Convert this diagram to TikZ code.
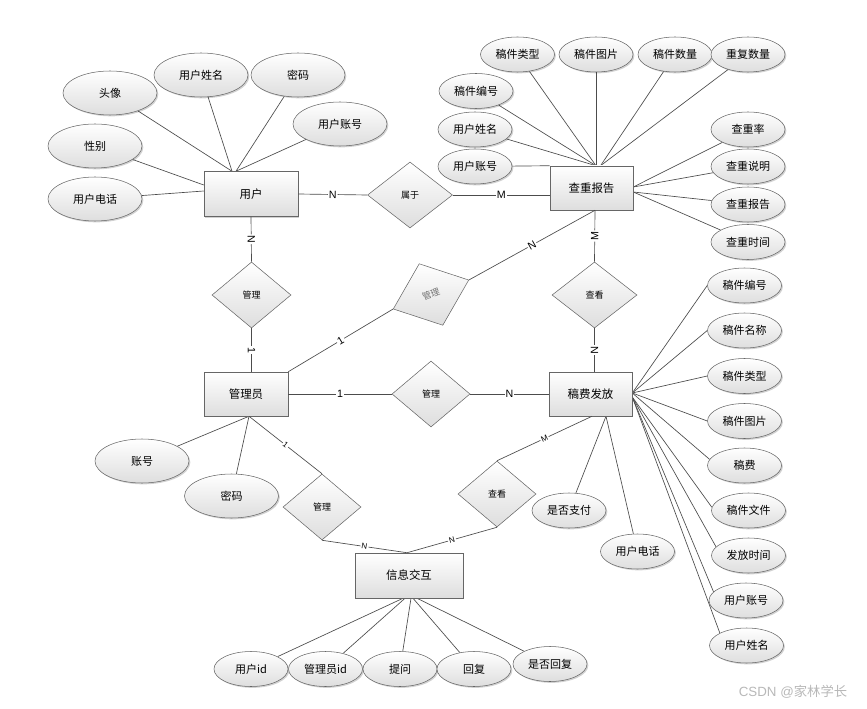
\documentclass[tikz,border=0pt]{standalone}
\usepackage{fontspec}
\newfontfamily\cjk{Noto Sans CJK SC}
\newfontfamily\lat{Liberation Sans}
\usetikzlibrary{shapes.geometric,calc,shadows,backgrounds}
\tikzset{
  shade/.style={top color=white, bottom color=black!13},
  ent/.style={rectangle, draw=black!60, shade, inner sep=0pt,
    drop shadow={shadow xshift=1pt, shadow yshift=-1pt, opacity=0.18, fill=black},
    font=\cjk\fontsize{8.6}{10}\selectfont},
  attr/.style={ellipse, draw=black!60, shade, inner sep=0pt,
    drop shadow={shadow xshift=1pt, shadow yshift=-1pt, opacity=0.18, fill=black},
    font=\cjk\fontsize{8.25}{10}\selectfont},
  bigattr/.style={attr, minimum width=70.5pt, minimum height=33pt},
  smattr/.style={attr, minimum width=55.5pt, minimum height=26.25pt},
  rel/.style={diamond, draw=black!60, shade, inner sep=0pt, minimum height=49.5pt,
    font=\cjk\fontsize{6.75}{8}\selectfont},
  conn/.style={draw=black!70, line width=0.5pt},
  card/.style={fill=white, inner sep=0.8pt, sloped, font=\lat\fontsize{8}{9}\selectfont},
  smcard/.style={card, font=\lat\fontsize{6}{7}\selectfont},
}
\begin{document}
\begin{tikzpicture}[x=0.75pt,y=-0.75pt]
\useasboundingbox (0,0) rectangle (867,709);

% entities
\node[ent, minimum width=70.5pt, minimum height=33.75pt] (yh) at (251,194) {用户};
\node[ent, minimum width=62.25pt, minimum height=33pt] (cb) at (591.5,188) {查重报告};
\node[ent, minimum width=63pt, minimum height=33pt] (gly) at (246,394) {管理员};
\node[ent, minimum width=62.25pt, minimum height=33pt] (gf) at (590.5,394) {稿费发放};
\node[ent, minimum width=81pt, minimum height=33.75pt] (xx) at (409,575.5) {信息交互};

% relationships
\node[rel, minimum width=63.75pt] (sy) at (410,195) {属于};
\node[rel, minimum width=59.25pt] (glL) at (251.5,295) {管理};
\node[rel, minimum width=60.75pt, rotate=21, text=black!55] (glR) at (431,294.5) {管理};
\node[rel, minimum width=63.75pt] (chU) at (594.5,295) {查看};
\node[rel, minimum width=58.5pt] (glM) at (431,394) {管理};
\node[rel, minimum width=58.5pt] (glLL) at (322,507) {管理};
\node[rel, minimum width=58.5pt] (chL) at (497,494) {查看};

% attributes of 用户
\node[bigattr] (u1) at (110,93) {头像};
\node[bigattr] (u2) at (201,75) {用户姓名};
\node[bigattr] (u3) at (298,75) {密码};
\node[bigattr] (u4) at (340,124) {用户账号};
\node[bigattr] (u5) at (95,146) {性别};
\node[bigattr] (u6) at (95,199) {用户电话};

% attributes of 管理员
\node[bigattr] (g1) at (142,461) {账号};
\node[bigattr] (g2) at (231.5,496) {密码};

% attributes of 查重报告
\node[smattr] (c1) at (517.5,54.5) {稿件类型};
\node[smattr] (c2) at (596,54.5) {稿件图片};
\node[smattr] (c3) at (675,54.5) {稿件数量};
\node[smattr] (c4) at (748,54.5) {重复数量};
\node[smattr] (c5) at (476,91) {稿件编号};
\node[smattr] (c6) at (475,129.5) {用户姓名};
\node[smattr] (c7) at (475,166.5) {用户账号};
\node[smattr] (c8) at (748,129.5) {查重率};
\node[smattr] (c9) at (748,166.5) {查重说明};
\node[smattr] (c10) at (748,204.5) {查重报告};
\node[smattr] (c11) at (748,242) {查重时间};

% attributes of 稿费发放
\node[smattr] (f1) at (744.5,285.5) {稿件编号};
\node[smattr] (f2) at (744.5,330.5) {稿件名称};
\node[smattr] (f3) at (744.5,376) {稿件类型};
\node[smattr] (f4) at (744.5,421) {稿件图片};
\node[smattr] (f5) at (744.5,465.5) {稿费};
\node[smattr] (f6) at (748.5,510.5) {稿件文件};
\node[smattr] (f7) at (748.5,555.5) {发放时间};
\node[smattr] (f8) at (746,600.5) {用户账号};
\node[smattr] (f9) at (746.5,645.5) {用户姓名};
\node[smattr] (f10) at (569,510.5) {是否支付};
\node[smattr] (f11) at (637.5,551.5) {用户电话};

% attributes of 信息交互
\node[smattr] (x1) at (251,669) {用户id};
\node[smattr] (x2) at (325.5,669) {管理员id};
\node[smattr] (x3) at (400,669) {提问};
\node[smattr] (x4) at (474,669) {回复};
\node[smattr] (x5) at (550,664) {是否回复};

% connection points
\coordinate (yhT1) at ($(yh.north)+(-19,0)$);
\coordinate (yhT2) at ($(yh.north)+(-15,0)$);
\coordinate (yhL1) at ($(yh.west)+(0,-9)$);
\coordinate (yhL2) at ($(yh.west)+(0,-3)$);
\coordinate (cbT1) at ($(cb.north)+(4.5,0)$);
\coordinate (cbT2) at ($(cb.north)+(9,0)$);
\coordinate (cbR1) at ($(cb.east)+(0,-1)$);
\coordinate (cbR2) at ($(cb.east)+(0,4)$);
\coordinate (cbB) at ($(cb.south)+(3.5,0)$);
\coordinate (gfR1) at ($(gf.east)+(0,-1)$);
\coordinate (gfR2) at ($(gf.east)+(0,3)$);
\coordinate (gfB1) at ($(gf.south)+(1.5,0)$);
\coordinate (gfB2) at ($(gf.south)+(15.5,0)$);
\coordinate (glyB) at ($(gly.south)+(3,0)$);
\coordinate (xxT) at ($(xx.north)+(-2,0)$);

\begin{pgfonlayer}{background}
% attribute connectors
\draw[conn] (u1) -- (yhT1);
\draw[conn] (u2) -- (yhT1);
\draw[conn] (u3) -- (yhT2);
\draw[conn] (u4) -- (yhT2);
\draw[conn] (u5) -- (yhL1);
\draw[conn] (u6) -- (yhL2);

\draw[conn] (g1) -- (glyB);
\draw[conn] (g2) -- (glyB);

\draw[conn] (c1) -- (cbT1);
\draw[conn] (c2) -- (cbT1);
\draw[conn] (c3) -- (cbT2);
\draw[conn] (c4) -- (cbT2);
\draw[conn] (c5) -- (cbT1);
\draw[conn] (c6) -- (cbT1);
\draw[conn] (c7) -- (cb.north west);
\draw[conn] (c8) -- (cbR1);
\draw[conn] (c9) -- (cbR1);
\draw[conn] (c10) -- (cbR2);
\draw[conn] (c11) -- (cbR2);

\draw[conn] (f1.west) -- (gfR1);
\draw[conn] (f2.west) -- (gfR1);
\draw[conn] (f3.west) -- (gfR1);
\draw[conn] (f4.west) -- (gfR1);
\draw[conn] (f5.170) -- (gfR1);
\draw[conn] (f6.175) -- (gfR2);
\draw[conn] (f7.165) -- (gfR2);
\draw[conn] (f8.165) -- (gfR2);
\draw[conn] (f9.155) -- (gfR2);
\draw[conn] (f10) -- (gfB2);
\draw[conn] (f11) -- (gfB2);

\draw[conn] (x1) -- ($(xx.south)+(-6,0)$);
\draw[conn] (x2) -- ($(xx.south)+(-4,0)$);
\draw[conn] (x3) -- ($(xx.south)+(2,0)$);
\draw[conn] (x4) -- ($(xx.south)+(4,0)$);
\draw[conn] (x5) -- ($(xx.south)+(8,0)$);
\end{pgfonlayer}

% relationship connectors
\draw[conn] (yh.east) -- node[card]{N} (sy.west);
\draw[conn] (sy.east) -- node[card]{M} (sy.east -| cb.west);
\draw[conn] (yh.south) -- node[card]{N} (glL.north);
\draw[conn] (glL.south) -- node[card]{1} (glL.south |- gly.north);
\draw[conn] (gly.north east) -- node[card]{1} (glR.west);
\draw[conn] (glR.east) -- node[card]{N} (cbB);
\draw[conn] (cbB) -- node[card]{M} (chU.north);
\draw[conn] (chU.south) -- node[card]{N} (chU.south |- gf.north);
\draw[conn] (gly.east) -- node[card]{1} (glM.west);
\draw[conn] (glM.east) -- node[card]{N} (gf.west);
\draw[conn] (glyB) -- node[smcard]{1} (glLL.north);
\draw[conn] (glLL.south) -- node[smcard]{N} (xxT);
\draw[conn] (gfB1) -- node[smcard]{M} (chL.north);
\draw[conn] (chL.south) -- node[smcard]{N} (xxT);

% watermark
\node[text=black!28, font=\fontsize{10}{12}\selectfont] (wm) at (793,692) {\lat CSDN @\cjk 家林学长};
\end{tikzpicture}
\end{document}
